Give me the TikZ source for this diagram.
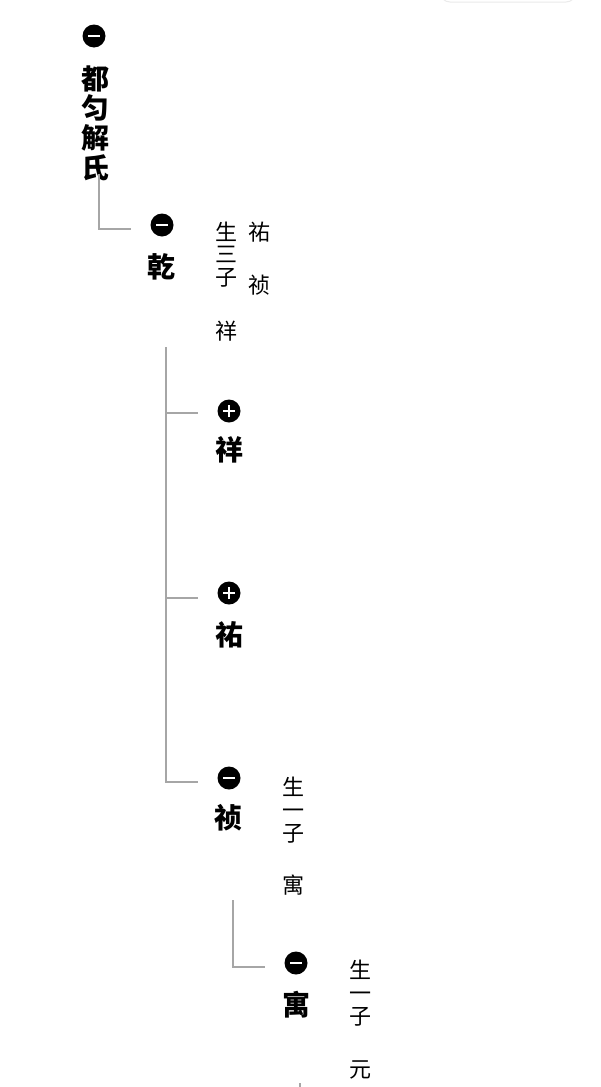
\documentclass[tikz,border=0pt]{standalone}
\usepackage{fontspec}
\newfontfamily\cjk{Noto Sans CJK SC}
\usepackage{xcolor}

\tikzset{
  kin/.style={font=\cjk\bfseries\fontsize{28}{29.6}\selectfont, align=center, inner sep=0pt},
  note/.style={font=\cjk\fontsize{22}{22.7}\selectfont, align=center, inner sep=0pt},
  fold/.style={circle, fill=black, minimum size=23pt, inner sep=0pt},
  opened/.style={fold, path picture={
    \draw[white, line width=2pt] ([xshift=-6pt]path picture bounding box.center) -- ([xshift=6pt]path picture bounding box.center);}},
  closed/.style={fold, path picture={
    \draw[white, line width=2pt] ([xshift=-6pt]path picture bounding box.center) -- ([xshift=6pt]path picture bounding box.center);
    \draw[white, line width=2pt] ([yshift=-6pt]path picture bounding box.center) -- ([yshift=6pt]path picture bounding box.center);}},
  link/.style={draw=black!35, line width=1.3pt}
}

\begin{document}
\begin{tikzpicture}[x=1pt, y=-1pt]
\fill[white] (0,0) rectangle (600,1087);
\useasboundingbox (0,0) rectangle (600,1087);
\draw[black!8, line width=1pt, rounded corners=10pt] (440,-30) rectangle (576,2);

\node[opened] (rooticon) at (94,36) {};
\node[kin] (root) at (95,123) {都\\匀\\解\\氏};

\node[opened] (qianicon) at (162,225) {};
\node[kin] (qian) at (161,267) {乾};
\node[note] (qiannote) at (226,254.5) {生\\三\\子};
\node[note] (qianson1) at (226,331) {祥};
\node[note] (qianson2) at (259,232) {祐};
\node[note] (qianson3) at (259,285) {祯};

\node[closed] (xiangicon) at (229,411) {};
\node[kin] (xiang) at (229,450) {祥};
\node[closed] (youicon) at (229,593) {};
\node[kin] (you) at (229,635) {祐};
\node[opened] (zhenicon) at (229,778) {};
\node[kin] (zhen) at (228,818) {祯};
\node[note] (zhennote) at (293,810) {生\\一\\子};
\node[note] (zhenson) at (293,885) {寓};

\node[opened] (yuicon) at (296,963) {};
\node[kin] (yu) at (296,1005) {寓};
\node[note] (yunote) at (360,993) {生\\一\\子};
\node[note] (yuson) at (360,1070) {元};

\coordinate (qiantop) at (166,347);
\coordinate (zhentop) at (233,900);
\coordinate (yutop) at (300,1083);

\draw[link] ([xshift=4pt,yshift=7pt]root.south) |- ([xshift=-19.5pt,yshift=-4pt]qianicon.west);
\draw[link] (qiantop) |- ([xshift=-19.5pt,yshift=-2pt]xiangicon.west);
\draw[link] (qiantop) |- ([xshift=-19.5pt,yshift=-5pt]youicon.west);
\draw[link] (qiantop) |- ([xshift=-19.5pt,yshift=-4pt]zhenicon.west);
\draw[link] (zhentop) |- ([xshift=-19.5pt,yshift=-4pt]yuicon.west);
\draw[link] (yutop) -- ++(0,10);
\end{tikzpicture}
\end{document}
